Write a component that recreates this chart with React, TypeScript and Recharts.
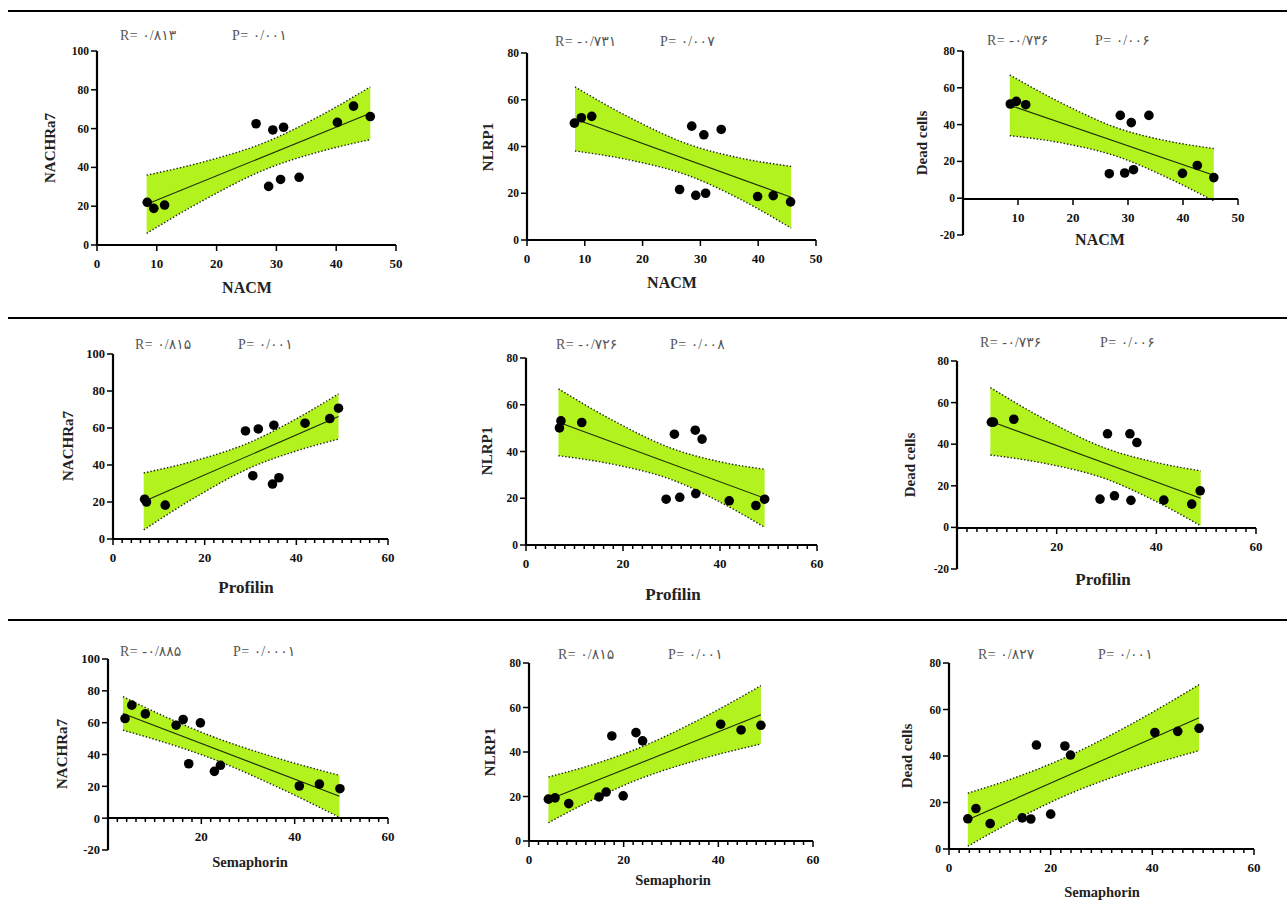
import React from 'react';
import { ComposedChart, XAxis, YAxis, Scatter, Line, Area } from 'recharts';

const FONT = '"Liberation Serif", "Times New Roman", "DejaVu Serif", serif';
const RP_FONT = '"Liberation Serif", "DejaVu Sans", serif';
const BAND = '#b2f21e';

// ---------- Panel 1: NACM vs NACHRa7 ----------
const p1X = [8.4, 9.5, 11.3, 26.6, 28.7, 29.4, 30.7, 31.2, 33.8, 40.2, 42.9, 45.7];
const p1Y = [22, 18.9, 20.6, 62.5, 30.2, 59.3, 33.8, 60.7, 34.9, 63.2, 71.6, 66.2];
const p1FitX = [8.3, 45.7];
const p1FitY = [21, 67.9];
const p1BandX = [8.3, 18, 28.2, 37, 45.7];
const p1BandLo = [6, 23.4, 39, 47.9, 54.3];
const p1BandHi = [36, 43, 53, 66.1, 81.5];

// ---------- Panel 2: NACM vs NLRP1 ----------
const p2X = [8.2, 9.4, 11.2, 26.4, 28.5, 29.2, 30.6, 30.9, 33.6, 39.9, 42.6, 45.6];
const p2Y = [50, 52.3, 52.9, 21.6, 48.7, 19.1, 45, 20, 47.3, 18.6, 19, 16.3];
const p2FitX = [8.3, 45.7];
const p2FitY = [51.8, 18.3];
const p2BandX = [8.3, 18, 28, 37, 45.7];
const p2BandLo = [38.1, 34.1, 27.5, 17.3, 5.1];
const p2BandHi = [65.5, 52.1, 40.9, 35, 31.5];

// ---------- Panel 3: NACM vs Dead cells ----------
const p3X = [8.6, 9.7, 11.4, 26.6, 28.6, 29.4, 30.6, 31, 33.8, 39.9, 42.6, 45.6];
const p3Y = [51.2, 52.6, 50.8, 13.3, 45, 13.7, 41.1, 15.5, 45, 13.5, 17.8, 11.2];
const p3FitX = [8.5, 45.6];
const p3FitY = [50.5, 12.5];
const p3BandX = [8.5, 18, 28.2, 37, 45.6];
const p3BandLo = [34, 30, 22.5, 11.4, -1.5];
const p3BandHi = [67, 51.6, 38, 31.2, 27];

// ---------- Panel 4: Profilin vs NACHRa7 ----------
const p4X = [6.9, 7.3, 11.4, 28.9, 30.5, 31.7, 34.8, 35.1, 36.2, 41.9, 47.3, 49.2];
const p4Y = [21.5, 20, 18.3, 58.4, 34.2, 59.5, 29.7, 61.5, 33.1, 62.6, 65.1, 70.7];
const p4FitX = [6.7, 49.2];
const p4FitY = [20.3, 66.2];
const p4BandX = [6.7, 18, 30.1, 40, 49.2];
const p4BandLo = [4.9, 22.6, 38.7, 47.6, 54];
const p4BandHi = [35.7, 42.4, 52.5, 65, 78.4];

// ---------- Panel 5: Profilin vs NLRP1 ----------
const p5X = [6.9, 7.2, 11.5, 28.9, 30.6, 31.7, 34.9, 35, 36.3, 41.9, 47.4, 49.2];
const p5Y = [50.1, 53.1, 52.4, 19.6, 47.4, 20.4, 49.1, 22, 45.3, 18.9, 16.9, 19.6];
const p5FitX = [6.7, 49.2];
const p5FitY = [52.5, 20];
const p5BandX = [6.7, 18, 30.1, 40, 49.2];
const p5BandLo = [38.2, 34.5, 27.9, 18.4, 7.6];
const p5BandHi = [66.8, 53.2, 41.3, 35.6, 32.4];

// ---------- Panel 6: Profilin vs Dead cells ----------
const p6X = [6.9, 7.3, 11.4, 28.7, 30.2, 31.6, 34.7, 34.9, 36.1, 41.5, 47.1, 48.8];
const p6Y = [50.6, 50.6, 52, 13.6, 45, 15.2, 45, 13, 40.8, 13.1, 11.2, 17.6];
const p6FitX = [6.7, 48.9];
const p6FitY = [51, 14];
const p6BandX = [6.7, 18, 30, 40, 48.9];
const p6BandLo = [34.8, 30.6, 23.2, 12.4, 0.8];
const p6BandHi = [67.2, 51.5, 37.9, 31.2, 27.2];

// ---------- Panel 7: Semaphorin vs NACHRa7 ----------
const p7X = [3.65, 5.1, 8, 14.6, 16.1, 17.3, 19.8, 22.8, 24.1, 41, 45.3, 49.7];
const p7Y = [62.6, 71, 65.5, 58.4, 62, 34.2, 59.9, 29.4, 33.2, 20.2, 21.4, 18.5];
const p7FitX = [3.2, 49.6];
const p7FitY = [65.8, 13.7];
const p7BandX = [3.2, 12, 22.3, 36, 49.6];
const p7BandLo = [55.3, 47.7, 37.4, 20, 0.5];
const p7BandHi = [76.3, 64.1, 51.4, 38, 26.9];

// ---------- Panel 8: Semaphorin vs NLRP1 ----------
const p8X = [4.1, 5.5, 8.4, 14.8, 16.3, 17.5, 19.9, 22.6, 24, 40.5, 44.8, 49];
const p8Y = [18.8, 19.4, 16.8, 19.8, 22, 47.2, 20.3, 48.7, 45, 52.5, 49.9, 52];
const p8FitX = [4.1, 49];
const p8FitY = [18.5, 56.7];
const p8BandX = [4.1, 12, 22.3, 36, 49];
const p8BandLo = [8.2, 17, 27, 36.6, 43.6];
const p8BandHi = [28.8, 33.4, 41, 54.6, 69.8];

// ---------- Panel 9: Semaphorin vs Dead cells ----------
const p9X = [3.7, 5.3, 8.1, 14.4, 16.1, 17.2, 20, 22.8, 23.9, 40.5, 45, 49.2];
const p9Y = [13, 17.4, 10.9, 13.4, 12.9, 44.7, 15, 44.3, 40.4, 50.1, 50.6, 51.9];
const p9FitX = [3.7, 49.2];
const p9FitY = [12.6, 56.5];
const p9BandX = [3.7, 12, 22.2, 36, 49.2];
const p9BandLo = [1.2, 11.3, 22.3, 33.7, 42.3];
const p9BandHi = [24, 29.9, 38.7, 53.9, 70.7];

// ---------- tick labels / texts ----------
const ticks50 = [0, 10, 20, 30, 40, 50];
const ticks50NoZero = [10, 20, 30, 40, 50];
const ticks60Minor = [0, 2, 4, 6, 8, 10, 12, 14, 16, 18, 20, 22, 24, 26, 28, 30, 32, 34, 36, 38, 40, 42, 44, 46, 48, 50, 52, 54, 56, 58, 60];
const labels60 = [0, 20, 40, 60];
const labels60NoZero = [20, 40, 60];
const yTicks100 = [0, 20, 40, 60, 80, 100];
const yTicks80 = [0, 20, 40, 60, 80];
const yTicksNeg80 = [-20, 0, 20, 40, 60, 80];
const yTicksNeg100 = [-20, 0, 20, 40, 60, 80, 100];

const rTexts = ['R= ۰/۸۱۳', 'R= -۰/۷۳۱', 'R= -۰/۷۳۶', 'R= ۰/۸۱۵', 'R= -۰/۷۲۶', 'R= -۰/۷۳۶', 'R= -۰/۸۸۵', 'R= ۰/۸۱۵', 'R= ۰/۸۲۷'];
const pTexts = ['P= ۰/۰۰۱', 'P= ۰/۰۰۷', 'P= ۰/۰۰۶', 'P= ۰/۰۰۱', 'P= ۰/۰۰۸', 'P= ۰/۰۰۶', 'P= ۰/۰۰۰۱', 'P= ۰/۰۰۱', 'P= ۰/۰۰۱'];
const xTitles = ['NACM', 'NACM', 'NACM', 'Profilin', 'Profilin', 'Profilin', 'Semaphorin', 'Semaphorin', 'Semaphorin'];
const yTitles = ['NACHRa7', 'NLRP1', 'Dead cells', 'NACHRa7', 'NLRP1', 'Dead cells', 'NACHRa7', 'NLRP1', 'Dead cells'];

type Cfg = {
  ax: number; bx: number; ty: number; by: number; y0: number;
  xMax: number; yMin: number; yMax: number;
  xTicks: number[]; xLabels: number[]; majorStep: number;
  yTicks: number[]; yTickFont: number; xTickFont: number;
  xs: number[]; ys: number[]; fitX: number[]; fitY: number[];
  bandX: number[]; bandLo: number[]; bandHi: number[];
  idx: number;
  xTitlePos: [number, number]; xTitleSize: number;
  yTitlePos: [number, number]; yTitleSize: number;
  rPos: [number, number]; pLeft: number;
};

const panels: Cfg[] = [
  { ax: 97, bx: 396, ty: 51, by: 245, y0: 245, xMax: 50, yMin: 0, yMax: 100, xTicks: ticks50, xLabels: ticks50, majorStep: 10, yTicks: yTicks100, yTickFont: 11.5, xTickFont: 13,
    xs: p1X, ys: p1Y, fitX: p1FitX, fitY: p1FitY, bandX: p1BandX, bandLo: p1BandLo, bandHi: p1BandHi, idx: 0,
    xTitlePos: [247, 288], xTitleSize: 16, yTitlePos: [50, 148], yTitleSize: 15, rPos: [120, 36], pLeft: 232 },
  { ax: 527, bx: 816, ty: 53, by: 240, y0: 240, xMax: 50, yMin: 0, yMax: 80, xTicks: ticks50, xLabels: ticks50, majorStep: 10, yTicks: yTicks80, yTickFont: 11.5, xTickFont: 13,
    xs: p2X, ys: p2Y, fitX: p2FitX, fitY: p2FitY, bandX: p2BandX, bandLo: p2BandLo, bandHi: p2BandHi, idx: 1,
    xTitlePos: [672, 283], xTitleSize: 16, yTitlePos: [488, 147], yTitleSize: 15, rPos: [555, 42], pLeft: 660 },
  { ax: 963, bx: 1238, ty: 51, by: 235, y0: 199, xMax: 50, yMin: -20, yMax: 80, xTicks: ticks50, xLabels: ticks50NoZero, majorStep: 10, yTicks: yTicksNeg80, yTickFont: 11.5, xTickFont: 13,
    xs: p3X, ys: p3Y, fitX: p3FitX, fitY: p3FitY, bandX: p3BandX, bandLo: p3BandLo, bandHi: p3BandHi, idx: 2,
    xTitlePos: [1100, 240], xTitleSize: 16, yTitlePos: [922, 143], yTitleSize: 15, rPos: [987, 41], pLeft: 1095 },
  { ax: 113, bx: 388, ty: 354, by: 539, y0: 539, xMax: 60, yMin: 0, yMax: 100, xTicks: ticks60Minor, xLabels: labels60, majorStep: 20, yTicks: yTicks100, yTickFont: 12.5, xTickFont: 13,
    xs: p4X, ys: p4Y, fitX: p4FitX, fitY: p4FitY, bandX: p4BandX, bandLo: p4BandLo, bandHi: p4BandHi, idx: 3,
    xTitlePos: [246, 588], xTitleSize: 17, yTitlePos: [68, 446], yTitleSize: 15, rPos: [135, 345], pLeft: 238 },
  { ax: 526, bx: 817, ty: 358, by: 545, y0: 545, xMax: 60, yMin: 0, yMax: 80, xTicks: ticks60Minor, xLabels: labels60, majorStep: 20, yTicks: yTicks80, yTickFont: 11.5, xTickFont: 13,
    xs: p5X, ys: p5Y, fitX: p5FitX, fitY: p5FitY, bandX: p5BandX, bandLo: p5BandLo, bandHi: p5BandHi, idx: 4,
    xTitlePos: [673, 595], xTitleSize: 17, yTitlePos: [487, 451], yTitleSize: 15, rPos: [556, 345], pLeft: 670 },
  { ax: 957, bx: 1256, ty: 361, by: 569, y0: 528, xMax: 60, yMin: -20, yMax: 80, xTicks: ticks60Minor, xLabels: labels60NoZero, majorStep: 20, yTicks: yTicksNeg80, yTickFont: 11.5, xTickFont: 13,
    xs: p6X, ys: p6Y, fitX: p6FitX, fitY: p6FitY, bandX: p6BandX, bandLo: p6BandLo, bandHi: p6BandHi, idx: 5,
    xTitlePos: [1103, 580], xTitleSize: 17, yTitlePos: [910, 465], yTitleSize: 15, rPos: [980, 343], pLeft: 1100 },
  { ax: 108, bx: 388, ty: 659, by: 850, y0: 818, xMax: 60, yMin: -20, yMax: 100, xTicks: ticks60Minor, xLabels: labels60NoZero, majorStep: 20, yTicks: yTicksNeg100, yTickFont: 12.5, xTickFont: 13,
    xs: p7X, ys: p7Y, fitX: p7FitX, fitY: p7FitY, bandX: p7BandX, bandLo: p7BandLo, bandHi: p7BandHi, idx: 6,
    xTitlePos: [250, 862], xTitleSize: 14.5, yTitlePos: [62, 754], yTitleSize: 15, rPos: [120, 652], pLeft: 233 },
  { ax: 529, bx: 813, ty: 663, by: 841, y0: 841, xMax: 60, yMin: 0, yMax: 80, xTicks: ticks60Minor, xLabels: labels60, majorStep: 20, yTicks: yTicks80, yTickFont: 11.5, xTickFont: 13,
    xs: p8X, ys: p8Y, fitX: p8FitX, fitY: p8FitY, bandX: p8BandX, bandLo: p8BandLo, bandHi: p8BandHi, idx: 7,
    xTitlePos: [673, 880], xTitleSize: 14.5, yTitlePos: [490, 752], yTitleSize: 15, rPos: [558, 655], pLeft: 668 },
  { ax: 949, bx: 1254, ty: 663, by: 849, y0: 849, xMax: 60, yMin: 0, yMax: 80, xTicks: ticks60Minor, xLabels: labels60, majorStep: 20, yTicks: yTicks80, yTickFont: 11.5, xTickFont: 13,
    xs: p9X, ys: p9Y, fitX: p9FitX, fitY: p9FitY, bandX: p9BandX, bandLo: p9BandLo, bandHi: p9BandHi, idx: 8,
    xTitlePos: [1102, 892], xTitleSize: 14.5, yTitlePos: [907, 756], yTitleSize: 15, rPos: [978, 655], pLeft: 1098 },
];

const Dot = (p: any) => <circle cx={p.cx} cy={p.cy} r={4.8} fill="#000" />;

function Panel({ c }: { c: Cfg }) {
  const YW = 70;
  const L = c.ax - YW;
  const T = c.ty - 10;
  const W = c.bx - L + 10;
  const H = c.by - T + 10;
  const H2 = c.y0 - T + 40;
  const band = c.bandX.map((x, i) => ({ x, lo: c.bandLo[i], hi: c.bandHi[i], band: [c.bandLo[i], c.bandHi[i]] }));
  const fit = c.fitX.map((x, i) => ({ x, y: c.fitY[i] }));
  const pts = c.xs.map((x, i) => ({ x, y: c.ys[i] }));

  const renderXTick = (props: any) => {
    const { x, y, payload } = props;
    const v = payload.value as number;
    const major = v % c.majorStep === 0;
    const showLabel = c.xLabels.includes(v);
    return (
      <g>
        {!(v === 0 && !c.xLabels.includes(0)) && (
          <line x1={x} x2={x} y1={y} y2={y + (major ? 6 : 4)} stroke="#000" strokeWidth={1.5} />
        )}
        {showLabel && (
          <text x={x} y={y + 23} textAnchor="middle" fontSize={c.xTickFont} fontWeight={700} fontFamily={FONT} fill="#111">
            {v}
          </text>
        )}
      </g>
    );
  };

  return (
    <>
      <div style={{ position: 'absolute', left: L, top: T }}>
        <ComposedChart width={W} height={H} data={band} margin={{ top: 10, right: 10, bottom: 10, left: 0 }}>
          <XAxis type="number" dataKey="x" domain={[0, c.xMax]} hide />
          <YAxis
            type="number"
            domain={[c.yMin, c.yMax]}
            ticks={c.yTicks}
            interval={0}
            width={YW}
            axisLine={{ stroke: '#000', strokeWidth: 2.2 }}
            tickLine={{ stroke: '#000', strokeWidth: 1.5 }}
            tickSize={6}
            tickMargin={2}
            tick={{ fontSize: c.yTickFont, fontWeight: 700, fill: '#111', fontFamily: FONT }}
          />
          <Area dataKey="band" type="monotone" fill={BAND} fillOpacity={1} stroke="none" isAnimationActive={false} />
          <Line dataKey="lo" type="monotone" stroke="#222" strokeWidth={1.4} strokeDasharray="1.4 2" dot={false} isAnimationActive={false} />
          <Line dataKey="hi" type="monotone" stroke="#222" strokeWidth={1.4} strokeDasharray="1.4 2" dot={false} isAnimationActive={false} />
          <Line data={fit} dataKey="y" type="linear" stroke="#1c2a06" strokeWidth={1.1} dot={false} isAnimationActive={false} />
          <Scatter data={pts} dataKey="y" fill="#000" shape={Dot} isAnimationActive={false} />
        </ComposedChart>
      </div>
      <div style={{ position: 'absolute', left: L, top: T, pointerEvents: 'none' }}>
        <ComposedChart width={W} height={H2} data={band} margin={{ top: 10, right: 10, bottom: 0, left: YW }}>
          <XAxis
            type="number"
            dataKey="x"
            domain={[0, c.xMax]}
            ticks={c.xTicks}
            interval={0}
            height={40}
            axisLine={{ stroke: '#000', strokeWidth: 2.2 }}
            tickLine={false}
            tickSize={0}
            tickMargin={0}
            tick={renderXTick}
          />
          <YAxis hide type="number" domain={[c.yMin, c.yMax]} />
          <Line dataKey="hi" stroke="none" dot={false} isAnimationActive={false} />
        </ComposedChart>
      </div>
      <div style={{ position: 'absolute', left: c.xTitlePos[0], top: c.xTitlePos[1], transform: 'translate(-50%, -50%)', whiteSpace: 'nowrap', fontFamily: FONT, fontWeight: 700, fontSize: c.xTitleSize, color: '#222' }}>
        {xTitles[c.idx]}
      </div>
      <div style={{ position: 'absolute', left: c.yTitlePos[0], top: c.yTitlePos[1], transform: 'translate(-50%, -50%) rotate(-90deg)', whiteSpace: 'nowrap', fontFamily: FONT, fontWeight: 700, fontSize: c.yTitleSize, color: '#222' }}>
        {yTitles[c.idx]}
      </div>
      <div style={{ position: 'absolute', left: c.rPos[0], top: c.rPos[1] - 9, lineHeight: '18px', whiteSpace: 'nowrap', fontFamily: RP_FONT, fontSize: 14, color: '#555', letterSpacing: 0.5 }}>
        {rTexts[c.idx]}
      </div>
      <div style={{ position: 'absolute', left: c.pLeft, top: c.rPos[1] - 9, lineHeight: '18px', whiteSpace: 'nowrap', fontFamily: RP_FONT, fontSize: 14, color: '#555', letterSpacing: 0.5 }}>
        {pTexts[c.idx]}
      </div>
    </>
  );
}

const separators = [10, 317, 619];

export default function App() {
  return (
    <div style={{ position: 'absolute', left: 0, top: 0, width: 1287, height: 922, background: '#fff', overflow: 'hidden' }}>
      {separators.map((y) => (
        <div key={y} style={{ position: 'absolute', left: 8, top: y, width: 1279, height: 2, background: '#000' }} />
      ))}
      {panels.map((c) => (
        <Panel key={c.idx} c={c} />
      ))}
    </div>
  );
}
